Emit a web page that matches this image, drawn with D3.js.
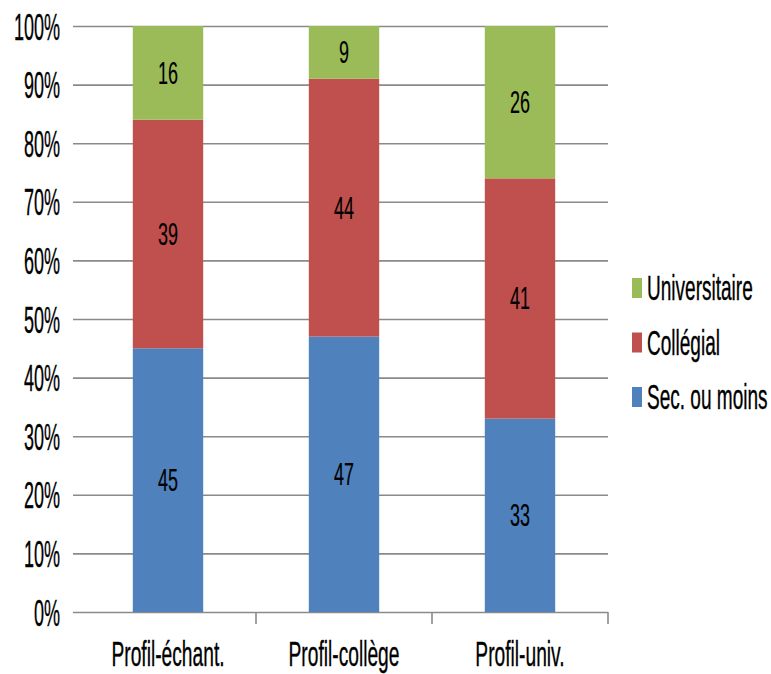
<!DOCTYPE html>
<html><head><meta charset="utf-8">
<script src="https://cdn.jsdelivr.net/npm/d3@7"></script>
<style>body{margin:0;background:#fff}svg{display:block}text{font-family:"Liberation Sans",Arial,sans-serif;fill:#000;stroke:#000;stroke-width:0.3px}</style>
</head><body>
<script>
const categories = ["Profil-échant.", "Profil-collège", "Profil-univ."];
const seriesNames = ["Sec. ou moins", "Collégial", "Universitaire"];
const secOuMoins = [45, 47, 33];
const collegial = [39, 44, 41];
const universitaire = [16, 9, 26];
const colors = ["#4F81BD", "#C0504D", "#9BBB59"];
const tickValues = [0,0.1,0.2,0.3,0.4,0.5,0.6,0.7,0.8,0.9,1];

const W = 771, H = 674;
const svg = d3.select("body").append("svg").attr("width", W).attr("height", H);

const rows = categories.map((c,i)=>({cat:c, "Sec. ou moins":secOuMoins[i], "Collégial":collegial[i], "Universitaire":universitaire[i]}));
const stack = d3.stack().keys(seriesNames).offset(d3.stackOffsetExpand);
const series = stack(rows);

const x = d3.scaleBand().domain(categories).range([80,608]).paddingInner(0.6).paddingOuter(0.3);
const y = d3.scaleLinear().domain([0,1]).range([612,26]);

// y axis with gridlines
const yAx = svg.append("g").attr("transform","translate(73,0)")
  .call(d3.axisLeft(y).tickValues(tickValues).tickFormat(d3.format(".0%")).tickSize(-(608-73)).tickPadding(0));
yAx.select(".domain").remove();
yAx.selectAll(".tick line").attr("stroke","#8a8a8a").attr("stroke-width",1.6);
yAx.selectAll(".tick text").attr("x",null).attr("dy","0.36em")
  .attr("transform","translate(-13,0) scale(0.6,1.22)")
  .style("font-size","30px").attr("text-anchor","end");

// bars
const g = svg.append("g");
series.forEach((s,si)=>{
  g.selectAll(null).data(s).enter().append("rect")
    .attr("x", d=>x(d.data.cat))
    .attr("width", x.bandwidth())
    .attr("y", d=>y(d[1]))
    .attr("height", d=>y(d[0])-y(d[1]))
    .attr("fill", colors[si]);
  g.selectAll(null).data(s).enter().append("text")
    .attr("transform", d=>`translate(${x(d.data.cat)+x.bandwidth()/2},${(y(d[0])+y(d[1]))/2}) scale(0.72,1.22)`)
    .attr("dy","0.36em").attr("text-anchor","middle").style("font-size","25px").style("stroke-width","0.15px")
    .text(d=>d.data[s.key]);
});

// x axis separators
const step = x.step();
svg.append("g").selectAll("line").data(categories).enter().append("line")
  .attr("x1", d=>x(d)-x.paddingOuter()*step+step).attr("x2", d=>x(d)-x.paddingOuter()*step+step)
  .attr("y1",612).attr("y2",624).attr("stroke","#8a8a8a").attr("stroke-width",1.6);

const xAx = svg.append("g").attr("transform","translate(0,612)")
  .call(d3.axisBottom(x).tickSize(0));
xAx.select(".domain").remove();
xAx.selectAll(".tick text").attr("y",null).attr("dy",null)
  .attr("transform","translate(0,54) scale(0.64,1.18)").style("font-size","30px").attr("text-anchor","middle");

// legend
const legendItems = [2,1,0];
const lg = svg.append("g");
legendItems.forEach((si,k)=>{
  const cy = 288 + k*54.5;
  lg.append("rect").attr("x",632).attr("y",cy-10).attr("width",10).attr("height",20).attr("fill",colors[si]);
  lg.append("text").attr("transform",`translate(647,${cy}) scale(0.68,1.22)`).attr("dy","0.36em")
    .style("font-size","28px").text(seriesNames[si]);
});
</script>
</body></html>
